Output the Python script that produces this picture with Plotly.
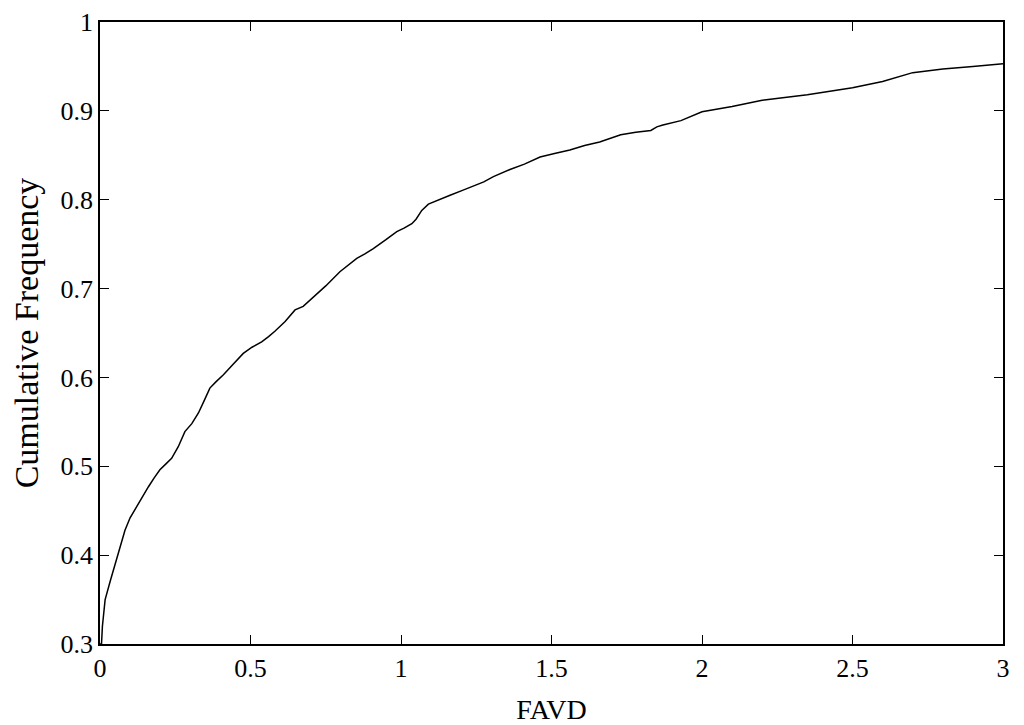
import plotly.graph_objects as go

# FAVD values and their cumulative frequency
favd = [0.0, 0.005, 0.008, 0.011, 0.017, 0.035, 0.055, 0.07, 0.083, 0.1, 0.122, 0.14,
        0.161, 0.18, 0.199, 0.22, 0.238, 0.26, 0.282, 0.305, 0.327, 0.345, 0.365, 0.385,
        0.41, 0.44, 0.476, 0.505, 0.537, 0.56, 0.581, 0.615, 0.648, 0.675, 0.698, 0.75,
        0.797, 0.825, 0.853, 0.88, 0.908, 0.95, 0.986, 1.01, 1.036, 1.05, 1.069, 1.091,
        1.125, 1.163, 1.2, 1.24, 1.275, 1.307, 1.362, 1.41, 1.462, 1.51, 1.561, 1.61,
        1.66, 1.73, 1.78, 1.83, 1.85, 1.87, 1.93, 2.0, 2.1, 2.2, 2.35, 2.5, 2.6, 2.7,
        2.8, 2.9, 3.0]
cum_freq = [0.3, 0.3, 0.32, 0.331, 0.35, 0.372, 0.395, 0.412, 0.428, 0.442, 0.455, 0.466,
            0.477, 0.487, 0.496, 0.503, 0.509, 0.522, 0.539, 0.548, 0.56, 0.573, 0.588, 0.595,
            0.603, 0.614, 0.627, 0.634, 0.64, 0.646, 0.652, 0.663, 0.676, 0.68, 0.687, 0.703,
            0.719, 0.726, 0.734, 0.739, 0.745, 0.755, 0.764, 0.768, 0.773, 0.778, 0.788, 0.795,
            0.8, 0.805, 0.81, 0.815, 0.82, 0.826, 0.834, 0.84, 0.848, 0.852, 0.856, 0.861,
            0.865, 0.873, 0.876, 0.878, 0.882, 0.884, 0.889, 0.899, 0.905, 0.912, 0.918, 0.926,
            0.933, 0.943, 0.947, 0.95, 0.953]

x_ticks = [0, 0.5, 1, 1.5, 2, 2.5, 3]
x_labels = ['0', '0.5', '1', '1.5', '2', '2.5', '3']
y_ticks = [0.3, 0.4, 0.5, 0.6, 0.7, 0.8, 0.9, 1.0]
y_labels = ['0.3', '0.4', '0.5', '0.6', '0.7', '0.8', '0.9', '1']

serif = 'Liberation Serif'

fig = go.Figure()
fig.add_trace(go.Scatter(
	x=favd, y=cum_freq,
	mode='lines',
	line=dict(color='black', width=1.5),
	showlegend=False
))

axis_style = dict(
	showline=True, linecolor='black', linewidth=1.5, mirror='ticks',
	ticks='inside', ticklen=9, tickwidth=1.2, tickcolor='black',
	showgrid=False, zeroline=False, automargin=False,
	tickfont=dict(family=serif, size=26, color='black')
)

fig.update_xaxes(range=[0, 3], tickvals=x_ticks, ticktext=x_labels,
	title=dict(text='FAVD', font=dict(family=serif, size=28, color='black'), standoff=20),
	**axis_style)
fig.update_yaxes(range=[0.3, 1], tickvals=y_ticks, ticktext=y_labels,
	title=dict(text='Cumulative Frequency', font=dict(family=serif, size=34, color='black'), standoff=20),
	**axis_style)

# the page adds an 8px body margin, so the figure is 8px smaller and margins shifted
fig.update_layout(
	width=1016, height=717,
	margin=dict(l=92, r=21, t=14, b=81),
	plot_bgcolor='white', paper_bgcolor='white'
)

fig.write_html("out.html")
